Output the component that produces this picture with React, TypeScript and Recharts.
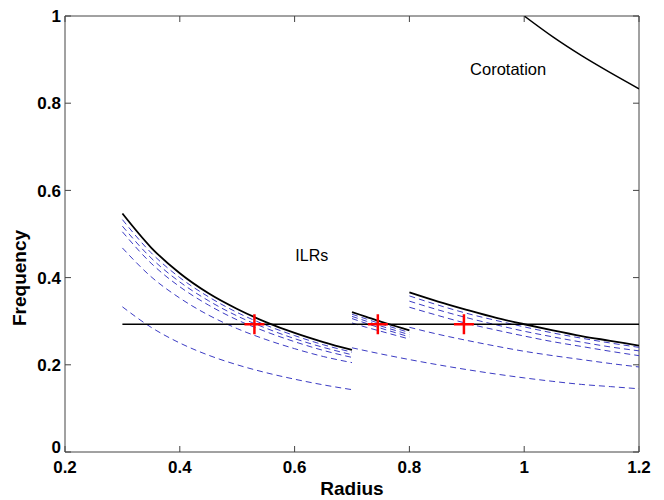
import { ComposedChart, Line, Scatter, XAxis, YAxis, ReferenceArea, ReferenceDot } from "recharts";

const FONT = "'Liberation Sans', Arial, Helvetica, sans-serif";

// axis ticks
const X_TICKS = [0.2, 0.4, 0.6, 0.8, 1.0, 1.2];
const Y_TICKS = [0, 0.2, 0.4, 0.6, 0.8, 1.0];

// inner segment (0.3 - 0.7)
const R_INNER = [0.3, 0.35, 0.4, 0.45, 0.5, 0.55, 0.6, 0.65, 0.7];
const INNER_SOLID = [0.547, 0.469, 0.41, 0.364, 0.328, 0.298, 0.273, 0.252, 0.234];
const INNER_DASHED = [
  [0.533, 0.457, 0.4, 0.356, 0.32, 0.291, 0.267, 0.246, 0.229],
  [0.518, 0.445, 0.39, 0.347, 0.312, 0.284, 0.26, 0.24, 0.223],
  [0.505, 0.433, 0.379, 0.337, 0.303, 0.276, 0.253, 0.233, 0.217],
  [0.468, 0.402, 0.353, 0.314, 0.283, 0.258, 0.237, 0.219, 0.205],
  [0.333, 0.286, 0.25, 0.222, 0.2, 0.182, 0.167, 0.154, 0.143],
];

// middle segment (0.7 - 0.8)
const R_MID = [0.7, 0.725, 0.75, 0.775, 0.8];
const MID_SOLID = [0.321, 0.31, 0.299, 0.289, 0.279];
const MID_DASHED = [
  [0.316, 0.305, 0.294, 0.284, 0.274],
  [0.311, 0.3, 0.289, 0.279, 0.269],
  [0.306, 0.295, 0.284, 0.274, 0.264],
  [0.296, 0.286, 0.277, 0.268, 0.259],
];

// outer segment (0.8 - 1.2)
const R_OUTER = [0.8, 0.85, 0.9, 0.95, 1.0, 1.05, 1.1, 1.15, 1.2];
const OUTER_SOLID = [0.366, 0.345, 0.326, 0.308, 0.293, 0.279, 0.266, 0.255, 0.244];
const OUTER_DASHED = [
  [0.358, 0.337, 0.318, 0.302, 0.287, 0.273, 0.261, 0.25, 0.24],
  [0.346, 0.326, 0.308, 0.292, 0.277, 0.264, 0.252, 0.241, 0.232],
  [0.332, 0.313, 0.295, 0.28, 0.266, 0.253, 0.242, 0.231, 0.221],
  [0.286, 0.27, 0.256, 0.243, 0.231, 0.221, 0.212, 0.203, 0.195],
];

// lowest dashed curve, 0.7 - 1.2
const R_LOW = [0.7, 0.75, 0.8, 0.85, 0.9, 0.95, 1.0, 1.05, 1.1, 1.15, 1.2];
const LOW_DASHED = [0.239, 0.225, 0.212, 0.2, 0.189, 0.179, 0.17, 0.162, 0.155, 0.15, 0.145];

// corotation
const R_COROT = [1.0, 1.05, 1.1, 1.15, 1.2];
const COROTATION = [1.0, 0.952, 0.909, 0.87, 0.833];

// pattern speed
const R_PATTERN = [0.3, 1.2];
const PATTERN = [0.293, 0.293];

// ILR markers
const CROSS_R = [0.53, 0.745, 0.895];
const CROSS_F = [0.293, 0.293, 0.293];

const PLOT_TOP = 16;
const PLOT_BOTTOM = 452;
const PLOT_LEFT = 65;
const PLOT_RIGHT = 639;
const FRAME = "#444";
const DASH_BLUE = "#3c3cc4";

const toPts = (rs: number[], fs: number[]) => rs.map((r, i) => ({ r, f: fs[i] }));

function XTick({ x, payload }: any) {
  return (
    <g>
      <line x1={x} x2={x} y1={PLOT_BOTTOM} y2={PLOT_BOTTOM - 6} stroke={FRAME} />
      <line x1={x} x2={x} y1={PLOT_TOP} y2={PLOT_TOP + 6} stroke={FRAME} />
      <text x={x} y={473} textAnchor="middle" fontSize={17} fontWeight="bold" fontFamily={FONT} fill="#000">
        {String(payload.value)}
      </text>
    </g>
  );
}

function YTick({ y, payload }: any) {
  const up = payload.value === 0 ? -5 : 0;
  return (
    <g>
      <line x1={PLOT_LEFT} x2={PLOT_LEFT + 6} y1={y} y2={y} stroke={FRAME} />
      <line x1={PLOT_RIGHT} x2={PLOT_RIGHT - 6} y1={y} y2={y} stroke={FRAME} />
      <text x={61} y={y + up} dy="0.36em" textAnchor="end" fontSize={17} fontWeight="bold" fontFamily={FONT} fill="#000">
        {String(payload.value)}
      </text>
    </g>
  );
}

function Cross({ cx, cy }: any) {
  return (
    <g stroke="#ff0000" strokeWidth={2.5}>
      <line x1={cx - 10} x2={cx + 10} y1={cy} y2={cy} />
      <line x1={cx} x2={cx} y1={cy - 10} y2={cy + 10} />
    </g>
  );
}

const dashed = (key: string, data: { r: number; f: number }[]) => (
  <Line key={key} data={data} dataKey="f" type="monotone" stroke={DASH_BLUE} strokeWidth={1}
    strokeDasharray="6 4" dot={false} isAnimationActive={false} />
);

const solid = (key: string, data: { r: number; f: number }[], w = 1.8) => (
  <Line key={key} data={data} dataKey="f" type="monotone" stroke="#000" strokeWidth={w}
    dot={false} isAnimationActive={false} />
);

export default function App() {
  return (
    <div style={{ position: "absolute", left: 0, top: 0, width: 664, height: 500, background: "#fff" }}>
      <ComposedChart width={664} height={500} margin={{ top: PLOT_TOP, right: 664 - PLOT_RIGHT, bottom: 0, left: 0 }}>
        <XAxis
          type="number" dataKey="r" domain={[0.2, 1.2]} ticks={X_TICKS} allowDataOverflow
          height={500 - PLOT_BOTTOM} axisLine={false} tickLine={false} tick={<XTick />} interval={0}
          label={() => (
            <text x={352} y={495} textAnchor="middle" fontSize={19} fontWeight="bold" fontFamily={FONT} fill="#000">
              Radius
            </text>
          )}
        />
        <YAxis
          type="number" dataKey="f" domain={[0, 1]} ticks={Y_TICKS} allowDataOverflow
          width={PLOT_LEFT} axisLine={false} tickLine={false} tick={<YTick />} interval={0}
          label={() => (
            <text x={26} y={278} transform="rotate(-90 26 278)" textAnchor="middle" fontSize={19}
              fontWeight="bold" fontFamily={FONT} fill="#000">
              Frequency
            </text>
          )}
        />
        <ReferenceArea x1={0.2} x2={1.2} y1={0} y2={1} fill="none" stroke={FRAME} strokeWidth={1} />

        {INNER_DASHED.map((d, i) => dashed(`id${i}`, toPts(R_INNER, d)))}
        {MID_DASHED.map((d, i) => dashed(`md${i}`, toPts(R_MID, d)))}
        {OUTER_DASHED.map((d, i) => dashed(`od${i}`, toPts(R_OUTER, d)))}
        {dashed("low", toPts(R_LOW, LOW_DASHED))}

        {solid("pattern", toPts(R_PATTERN, PATTERN), 1.4)}
        {solid("inner", toPts(R_INNER, INNER_SOLID))}
        {solid("mid", toPts(R_MID, MID_SOLID))}
        {solid("outer", toPts(R_OUTER, OUTER_SOLID))}
        {solid("corot", toPts(R_COROT, COROTATION), 1.5)}

        <Scatter data={toPts(CROSS_R, CROSS_F)} dataKey="f" shape={<Cross />} isAnimationActive={false} />

        <ReferenceDot x={0.63} y={0.45} r={1} fill="none" stroke="none"
          label={{ value: "ILRs", position: "center", fontSize: 16, fontFamily: FONT, fill: "#000" }} />
        <ReferenceDot x={0.972} y={0.878} r={1} fill="none" stroke="none"
          label={{ value: "Corotation", position: "center", fontSize: 16.5, fontFamily: FONT, fill: "#000" }} />
      </ComposedChart>
    </div>
  );
}
